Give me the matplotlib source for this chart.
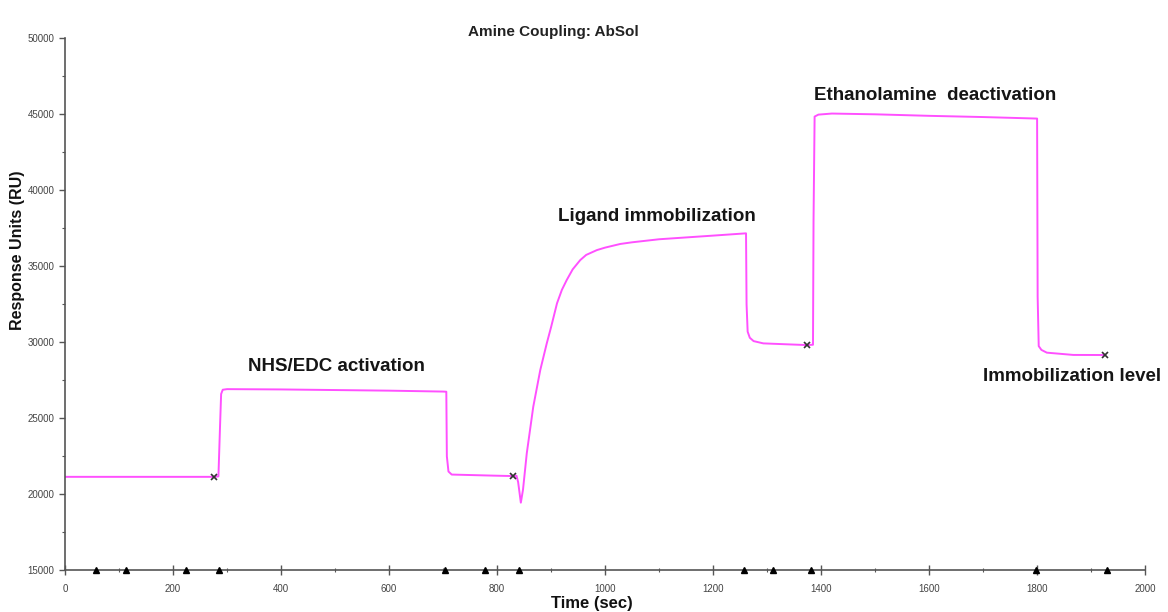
import matplotlib
matplotlib.use('Agg')
import matplotlib.pyplot as plt
from matplotlib.ticker import MultipleLocator

plt.rcParams['font.family'] = ['Liberation Sans', 'DejaVu Sans']

# Sensorgram (time in s, response in RU)
time_s = [0, 150, 276, 284, 287, 289, 292, 300, 400, 500, 600, 700, 706, 707, 710, 716,
          793, 830, 836, 839, 844, 848, 855, 867, 880, 892, 900, 911, 920, 929, 940, 954,
          965, 985, 1000, 1028, 1050, 1100, 1200, 1261, 1262, 1264, 1268, 1275, 1293, 1336,
          1373, 1385, 1386, 1388, 1395, 1420, 1500, 1600, 1700, 1800, 1801, 1803, 1808,
          1818, 1867, 1926]
response = [21150, 21150, 21150, 21180, 24500, 26600, 26880, 26920, 26900, 26860, 26820, 26760, 26750, 22500, 21500, 21300,
            21230, 21200, 21220, 20800, 19450, 20300, 22700, 25760, 28180, 29930, 31000, 32570, 33450, 34100, 34800, 35410,
            35750, 36070, 36230, 36470, 36580, 36780, 37020, 37170, 32500, 30700, 30300, 30080, 29930, 29870,
            29820, 29840, 38000, 44850, 44980, 45050, 45000, 44900, 44820, 44720, 33000, 29750, 29500,
            29320, 29170, 29165]

# report points (x) and injection flags (triangles on the time axis)
report_t = [276, 830, 1373, 1926]
report_ru = [21150, 21200, 29820, 29165]
flag_t = [58, 113, 224, 285, 704, 777, 840, 1257, 1311, 1382, 1798, 1929]

phase_labels = ['NHS/EDC activation', 'Ligand immobilization',
                'Ethanolamine  deactivation', 'Immobilization level']
label_t = [502, 1096, 1611, 1700]
label_ru = [28440, 38260, 46240, 27740]
label_ha = ['center', 'center', 'center', 'left']

fig = plt.figure(figsize=(11.68, 6.12), dpi=100)
fig.patch.set_facecolor('white')
ax = fig.add_axes([0.0557, 0.0681, 0.9247, 0.8693])

ax.plot(time_s, response, color='#ff50ff', linewidth=1.4)
ax.plot(report_t, report_ru, linestyle='none', marker='x', color='#333333',
        markersize=5, markeredgewidth=1.2)
ax.plot(flag_t, [15000] * len(flag_t), linestyle='none', marker='^', color='black',
        markersize=4, clip_on=False, zorder=5)

for txt, tx, ty, ha in zip(phase_labels, label_t, label_ru, label_ha):
    ax.text(tx, ty, txt, ha=ha, va='center', fontsize=13.5, fontweight='bold',
            color='#151515', clip_on=False)

ax.set_xlim(0, 2000)
ax.set_ylim(15000, 50000)
ax.xaxis.set_major_locator(MultipleLocator(200))
ax.xaxis.set_minor_locator(MultipleLocator(100))
ax.yaxis.set_major_locator(MultipleLocator(5000))
ax.yaxis.set_minor_locator(MultipleLocator(2500))

for side in ['top', 'right']:
    ax.spines[side].set_visible(False)
for side in ['left', 'bottom']:
    ax.spines[side].set_color('#555555')
    ax.spines[side].set_linewidth(1.2)

ax.tick_params(axis='x', which='major', direction='inout', length=7, width=1,
               colors='#555555', labelsize=7, labelcolor='#444444', pad=6)
ax.tick_params(axis='x', which='minor', direction='inout', length=3, width=0.8, colors='#555555')
ax.tick_params(axis='y', which='major', direction='out', length=4, width=1,
               colors='#555555', labelsize=7, labelcolor='#444444')
ax.tick_params(axis='y', which='minor', direction='out', length=2, width=0.8, colors='#555555')

fig.text(0.474, 0.948, 'Amine Coupling: AbSol', ha='center', va='center',
         fontsize=11, fontweight='bold', color='#222222')
fig.text(0.0154, 0.591, 'Response Units (RU)', ha='center', va='center', rotation=90,
         fontsize=11.5, fontweight='bold', color='#111111')
fig.text(0.5066, 0.0147, 'Time (sec)', ha='center', va='center',
         fontsize=12, fontweight='bold', color='#111111')

fig.savefig('out.png', dpi=100, facecolor='white')
plt.close(fig)
